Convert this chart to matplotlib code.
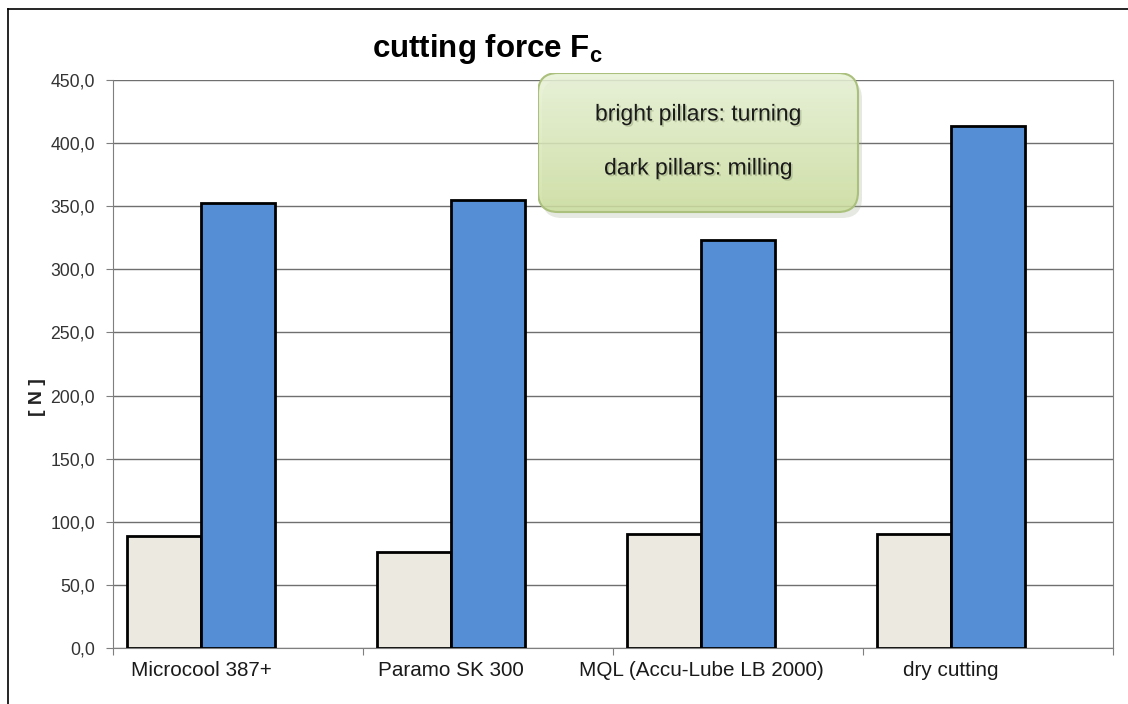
import matplotlib
matplotlib.use("Agg")
import matplotlib.pyplot as plt
import numpy as np
from matplotlib.patches import FancyBboxPatch
from matplotlib.ticker import FuncFormatter, FixedLocator
import matplotlib.patheffects as pe

categories = ["Microcool 387+", "Paramo SK 300", "MQL (Accu-Lube LB 2000)", "dry cutting"]
turning = [88.9, 76.2, 90.2, 90.2]
milling = [352.9, 355.0, 323.3, 413.2]

plt.rcParams["font.family"] = ["Liberation Sans", "DejaVu Sans"]
plt.rcParams["mathtext.fontset"] = "custom"
plt.rcParams["mathtext.rm"] = "Liberation Sans"
plt.rcParams["mathtext.bf"] = "Liberation Sans:bold"

W, H = 1128, 704
fig = plt.figure(figsize=(W / 100, H / 100), dpi=100)
ax = fig.add_axes([113 / W, 1 - 648 / H, (1113 - 113) / W, (648 - 80) / H])

x = np.arange(len(categories))
w = 0.296
ax.bar(x - w, turning, width=w, color="#ebe9e0", edgecolor="black", linewidth=2, zorder=3)
ax.bar(x, milling, width=w, color="#558ed5", edgecolor="black", linewidth=2, zorder=3)

ax.set_xlim(-0.5, len(categories) - 0.5)
ax.set_ylim(0, 450)
ax.set_yticks(np.arange(0, 451, 50))
ax.yaxis.set_major_formatter(FuncFormatter(lambda v, p: f"{v:.1f}".replace(".", ",")))
ax.grid(axis="y", color="#6f6f6f", linewidth=1, zorder=0)

ax.xaxis.set_major_locator(FixedLocator(np.arange(-0.5, len(categories), 1.0)))
ax.xaxis.set_minor_locator(FixedLocator(x - w / 2))
ax.set_xticklabels([])
ax.set_xticklabels(categories, minor=True)
ax.tick_params(axis="x", which="major", length=5, color="#7f7f7f", direction="out")
ax.tick_params(axis="x", which="minor", length=0, pad=9, labelsize=14.9, labelcolor="#1a1a1a")
ax.tick_params(axis="y", length=5, color="#7f7f7f", pad=8, labelsize=12.7, labelcolor="#333333")

for s in ["left", "bottom", "right"]:
    ax.spines[s].set_color("#7f7f7f")
ax.spines["top"].set_visible(False)

ax.set_ylabel("[ N ]", fontsize=14, fontweight="bold", color="#222222")
ax.yaxis.set_label_coords(-0.067, (648 - 397) / 568)

fig.text(372 / W, 1 - 57 / H, r"cutting force F$_\mathbf{c}$", fontsize=22.5,
         fontweight="bold", ha="left", va="baseline")

# outer border (left and top edges only visible)
fig.add_artist(plt.Line2D([8 / W, 8 / W], [0, 1 - 9 / H], transform=fig.transFigure,
                          color="black", linewidth=1.2))
fig.add_artist(plt.Line2D([8 / W, 1], [1 - 9 / H, 1 - 9 / H], transform=fig.transFigure,
                          color="black", linewidth=1.2))

# note box with green gradient
bx0, by0, bx1, by1 = 538, 73, 858, 212
bw, bh = bx1 - bx0, by1 - by0
bax = fig.add_axes([bx0 / W, 1 - (by1 + 6) / H, (bw + 6) / W, (bh + 6) / H])
bax.set_xlim(0, bw + 6)
bax.set_ylim(0, bh + 6)
bax.axis("off")
bax.patch.set_alpha(0)
shadow = FancyBboxPatch((4, 0), bw, bh, boxstyle="round,pad=0,rounding_size=20",
                        facecolor="#9aa88a", edgecolor="none", alpha=0.25)
bax.add_patch(shadow)
box = FancyBboxPatch((0, 6), bw, bh, boxstyle="round,pad=0,rounding_size=20",
                     facecolor="none", edgecolor="#aac07c", linewidth=1.5, zorder=3)
bax.add_patch(box)
top_c = np.array([0.91, 0.95, 0.84])
bot_c = np.array([0.80, 0.87, 0.62])
t = np.linspace(0, 1, 100)[:, None, None]
grad = top_c * (1 - t) + bot_c * t
grad = np.repeat(grad, 2, axis=1)
im = bax.imshow(grad, extent=[0, bw, 6, bh + 6], aspect="auto", origin="upper",
                alpha=0.85, zorder=2)
im.set_clip_path(box)
shadow_fx = [pe.withSimplePatchShadow(offset=(1.2, -1.2), shadow_rgbFace="#7a8a60", alpha=0.35)]
bax.text(bw / 2, bh + 6 - (114 - by0), "bright pillars: turning", ha="center", va="center",
         fontsize=16.5, color="#1a1a1a", zorder=4, path_effects=shadow_fx)
bax.text(bw / 2, bh + 6 - (168 - by0), "dark pillars: milling", ha="center", va="center",
         fontsize=16.5, color="#1a1a1a", zorder=4, path_effects=shadow_fx)

fig.savefig("out.png", dpi=100)
